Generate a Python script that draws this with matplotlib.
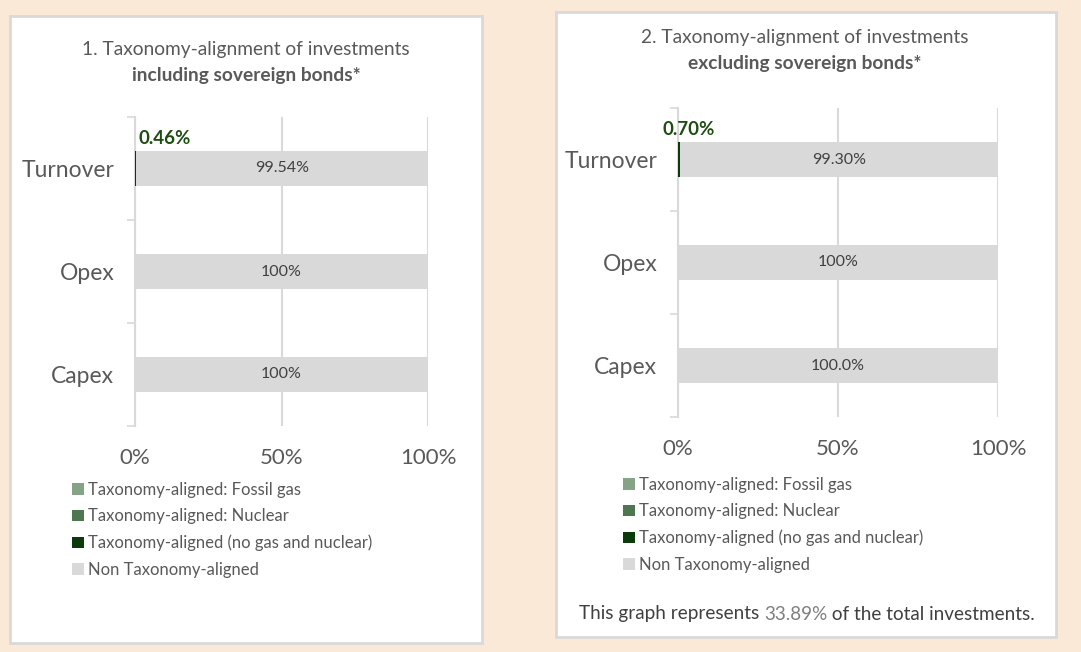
import matplotlib
matplotlib.use("Agg")
import matplotlib.pyplot as plt
from matplotlib.patches import Rectangle, Patch
from matplotlib.ticker import MultipleLocator

plt.rcParams["font.family"] = ["Lato", "DejaVu Sans"]

# ---- data -------------------------------------------------------------
categories = ["Turnover", "Opex", "Capex"]
series_names = ["Taxonomy-aligned: Fossil gas", "Taxonomy-aligned: Nuclear",
                "Taxonomy-aligned (no gas and nuclear)", "Non Taxonomy-aligned"]
incl_gas = [0.0, 0.0, 0.0]
incl_nuclear = [0.0, 0.0, 0.0]
incl_aligned = [0.46, 0.0, 0.0]
incl_non = [99.54, 100.0, 100.0]
incl_labels = ["99.54%", "100%", "100%"]
excl_gas = [0.0, 0.0, 0.0]
excl_nuclear = [0.0, 0.0, 0.0]
excl_aligned = [0.70, 0.0, 0.0]
excl_non = [99.30, 100.0, 100.0]
excl_labels = ["99.30%", "100%", "100.0%"]
x_ticks = [0, 50, 100]
x_tick_labels = ["0%", "50%", "100%"]
coverage_pct = "33.89%"

# ---- style ------------------------------------------------------------
W, H = 1081, 652
BG = "#FBE9D8"
COLORS = ["#87A387", "#4E7651", "#0B3A0B", "#D9D9D9"]
TXT = "#595959"
GREEN_TXT = "#1D4D13"

fig = plt.figure(figsize=(W / 100, H / 100), dpi=100, facecolor=BG)


def fx(px):
    return px / W


def fy(py):
    return 1 - py / H


def panel(x0, y0, x1, y1):
    fig.patches.append(Rectangle((fx(x0), fy(y1)), fx(x1 - x0), (y1 - y0) / H,
                                 transform=fig.transFigure, fc="white", ec="#D9D9D9",
                                 lw=2, zorder=-5))


def draw_chart(box, title1, title2, gas, nuclear, aligned, non, labels, green_off,
               legend_xy, title_xy):
    x0, x1, ytop, ybot = box
    ax = fig.add_axes([fx(x0), fy(ybot), fx(x1 - x0), (ybot - ytop) / H])
    ax.set_facecolor("white")
    ypos = list(range(len(categories)))[::-1]
    left = [0.0] * len(categories)
    for vals, col in zip([gas, nuclear, aligned, non], COLORS):
        ax.barh(ypos, vals, left=left, height=0.34, color=col, zorder=3)
        left = [a + b for a, b in zip(left, vals)]
    for y, v, lab, l0 in zip(ypos, non, labels, aligned):
        ax.text(l0 + v / 2, y, lab, ha="center", va="center", fontsize=11.5,
                color="#404040", zorder=4)
    # green label for the aligned share of Turnover
    ax.annotate(f"{aligned[0]:.2f}%", xy=(aligned[0], ypos[0] + 0.17),
                xytext=green_off, textcoords="offset pixels", ha="center", va="bottom",
                fontsize=13.5, fontweight="bold", color=GREEN_TXT)
    ax.set_xlim(0, 100)
    ax.set_ylim(-0.5, len(categories) - 0.5)
    ax.set_xticks(x_ticks)
    ax.set_xticklabels(x_tick_labels)
    ax.set_yticks(ypos)
    ax.set_yticklabels(categories)
    ax.yaxis.set_minor_locator(MultipleLocator(1, offset=0.5))
    ax.tick_params(axis="x", length=0, pad=16, labelsize=16, labelcolor=TXT)
    ax.tick_params(axis="y", which="major", length=0, pad=15, labelsize=16.5, labelcolor=TXT)
    ax.tick_params(axis="y", which="minor", length=6, width=1.2, color="#D9D9D9")
    ax.grid(axis="x", color="#D9D9D9", lw=1.5, zorder=0)
    for s in ["top", "right", "bottom"]:
        ax.spines[s].set_visible(False)
    ax.spines["left"].set_color("#D9D9D9")
    ax.spines["left"].set_linewidth(1.5)
    ax.set_axisbelow(True)
    tx, ty = title_xy
    fig.text(fx(tx), fy(ty), title1, ha="center", va="center", fontsize=13.8, color=TXT)
    fig.text(fx(tx), fy(ty + 26), title2, ha="center", va="center", fontsize=13.8,
             color=TXT, fontweight="bold")
    handles = [Patch(facecolor=c, edgecolor="none") for c in COLORS]
    lx, ly = legend_xy
    fig.legend(handles, series_names, loc="upper left",
               bbox_to_anchor=(fx(lx), fy(ly)), frameon=False, fontsize=12,
               labelcolor=TXT, handlelength=0.7, handleheight=0.7,
               handletextpad=0.25, labelspacing=0.62, borderpad=0, borderaxespad=0)
    return ax


panel(10, 16, 482, 643)
panel(556, 12, 1056, 637)

draw_chart((135, 428, 117, 426), "1. Taxonomy-alignment of investments",
           "including sovereign bonds*", incl_gas, incl_nuclear, incl_aligned, incl_non,
           incl_labels, (28, 4), (72, 482), (246, 49))
draw_chart((678, 998, 108, 417), "2. Taxonomy-alignment of investments",
           "excluding sovereign bonds*", excl_gas, excl_nuclear, excl_aligned, excl_non,
           excl_labels, (8, 4), (623, 477), (805, 38))

# footer with two-tone text
fig.canvas.draw()
r = fig.canvas.get_renderer()
parts = [("This graph represents ", "#404040"), (coverage_pct, "#7F7F7F"),
         (" of the total investments.", "#404040")]
widths = []
for s, c in parts:
    t = fig.text(0, 0, s, fontsize=13.6)
    widths.append(t.get_window_extent(r).width)
    t.remove()
x = 807 - sum(widths) / 2
for (s, c), w in zip(parts, widths):
    fig.text(fx(x), fy(614), s, ha="left", va="center", fontsize=13.6, color=c)
    x += w

fig.savefig("out.png", dpi=100, facecolor=BG)
